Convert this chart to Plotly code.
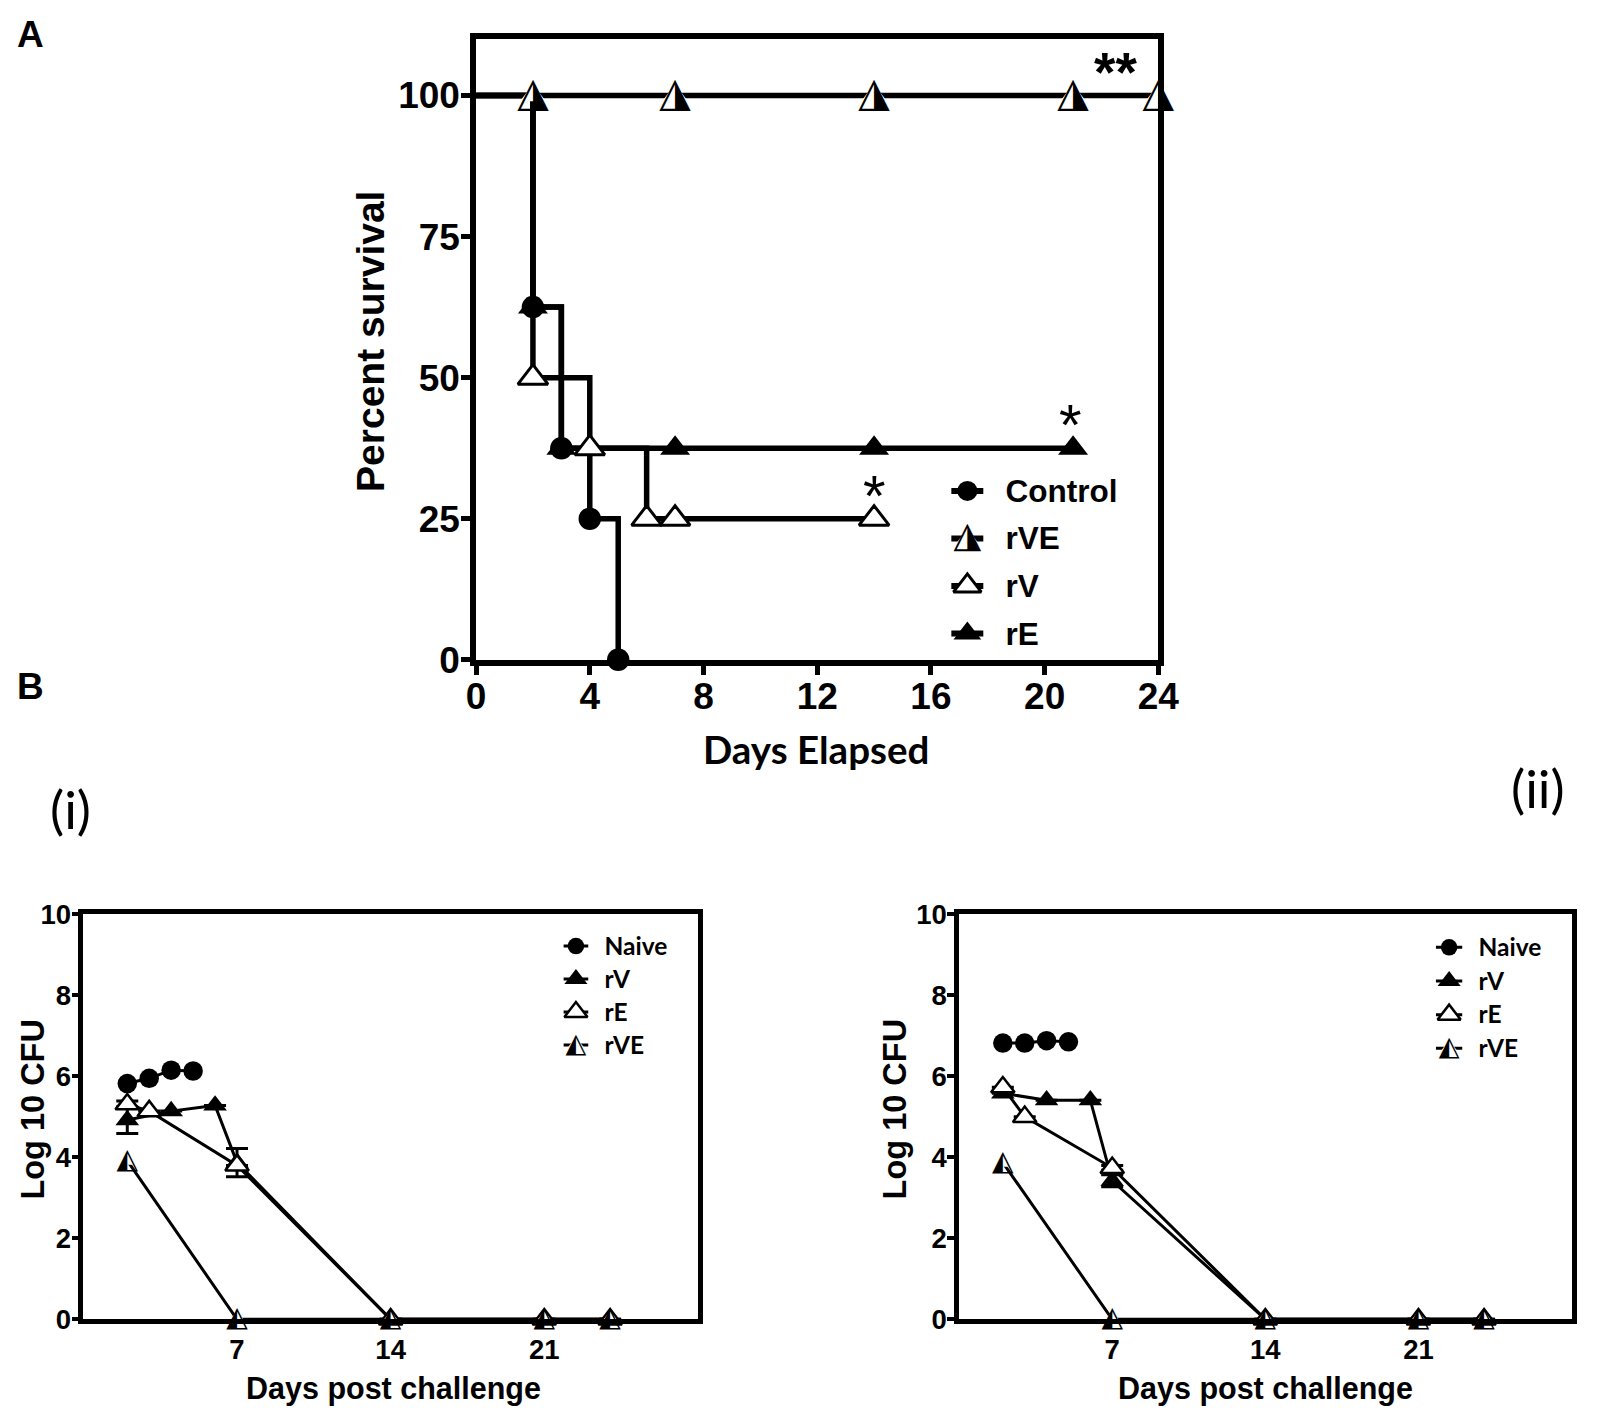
import plotly.graph_objects as go

W, H = 1610, 1426
ARIAL = "Liberation Sans, Arial, sans-serif"
CALIBRI = "Lato, Open Sans, sans-serif"
GLYPH = "DejaVu Sans"

# ---------------- Panel A: percent survival ----------------
a_control_days = [0, 2, 3, 4, 5]
a_control_pct = [100, 62.5, 37.5, 25, 0]
a_rve_days = [0, 2, 7, 14, 21, 24]
a_rve_pct = [100, 100, 100, 100, 100, 100]
a_rv_days = [0, 2, 4, 6, 7, 14]
a_rv_pct = [100, 50, 37.5, 25, 25, 25]
a_re_days = [0, 2, 3, 7, 14, 21]
a_re_pct = [100, 62.5, 37.5, 37.5, 37.5, 37.5]
a_xticks = [0, 4, 8, 12, 16, 20, 24]
a_yticks = [0, 25, 50, 75, 100]
a_legend = ["Control", "rVE", "rV", "rE"]
a_kind = {"Control": "circle", "rVE": "half", "rV": "open", "rE": "filled"}

# ---------------- Panel B: log10 CFU ----------------
b_xticks = [7, 14, 21]
b_yticks = [0, 2, 4, 6, 8, 10]
b_legend = ["Naive", "rV", "rE", "rVE"]
b_kind = {"Naive": "circle", "rV": "filled", "rE": "open", "rVE": "half"}

# (i)
bi_naive_days = [2, 3, 4, 5]
bi_naive = [5.82, 5.95, 6.15, 6.13]
bi_rv_days = [2, 4, 6, 7, 14, 21, 24]
bi_rv = [4.92, 5.14, 5.28, 3.87, 0, 0, 0]
bi_rv_err = [0.33, None, None, 0.35, None, None, None]
bi_re_days = [2, 3, 7, 14, 21, 24]
bi_re = [5.31, 5.14, 3.8, 0, 0, 0]
bi_re_err = [0.08, None, None, None, None, None]
bi_rve_days = [2, 7, 14, 21, 24]
bi_rve = [3.92, 0, 0, 0, 0]

# (ii)
bii_naive_days = [2, 3, 4, 5]
bii_naive = [6.82, 6.82, 6.88, 6.85]
bii_rv_days = [2, 4, 6, 7, 14, 21, 24]
bii_rv = [5.58, 5.41, 5.41, 3.42, 0, 0, 0]
bii_rv_err = [None, None, None, 0.15, None, None, None]
bii_re_days = [2, 3, 7, 14, 21, 24]
bii_re = [5.73, 5.0, 3.74, 0, 0, 0]
bii_re_err = [None, None, 0.06, None, None, None]
bii_rve_days = [2, 7, 14, 21, 24]
bii_rve = [3.87, 0, 0, 0, 0]

fig = go.Figure()


def marker_style(kind, size, lw):
    if kind == "circle":
        return dict(symbol="circle", size=size, color="black", line=dict(width=0))
    if kind == "filled":
        return dict(symbol="triangle-up", size=size, color="black", line=dict(width=0))
    if kind == "open":
        return dict(symbol="triangle-up", size=size, color="white",
                    line=dict(color="black", width=lw))
    # half-filled: white base under a glyph
    return dict(symbol="triangle-up", size=size * 0.8, color="white", line=dict(width=0))


def add_line(days, vals, xa, ya, width, shape):
    fig.add_trace(go.Scatter(x=days, y=vals, mode="lines", xaxis=xa, yaxis=ya,
                             line=dict(color="black", width=width, shape=shape),
                             cliponaxis=False, hoverinfo="skip", showlegend=False))


def add_marks(days, vals, xa, ya, kind, size, lw, glyph, gsize, err=None):
    err_y = None
    if err is not None:
        err_y = dict(type="data", array=err, visible=True, thickness=3,
                     width=11, color="black")
    fig.add_trace(go.Scatter(x=days, y=vals, mode="markers", xaxis=xa, yaxis=ya,
                             marker=marker_style(kind, size, lw), error_y=err_y,
                             cliponaxis=False, hoverinfo="skip", showlegend=False))
    if kind == "half":
        fig.add_trace(go.Scatter(x=days, y=vals, mode="text", xaxis=xa, yaxis=ya,
                                 text=[glyph] * len(days), textposition="middle center",
                                 textfont=dict(family=GLYPH, size=gsize, color="black"),
                                 cliponaxis=False, hoverinfo="skip", showlegend=False))


def add_legend(names, kinds, xa, ya, size, csize, lw, line_w, glyph, gsize):
    for name in names:
        kind = kinds[name]
        fig.add_trace(go.Scatter(x=[0], y=[name], mode="markers", xaxis=xa, yaxis=ya,
                                 marker=marker_style(kind, csize if kind == "circle" else size, lw),
                                 error_x=dict(type="data", array=[1], visible=True,
                                              thickness=line_w, width=0, color="black"),
                                 cliponaxis=False, hoverinfo="skip", showlegend=False))
        if kind == "half":
            fig.add_trace(go.Scatter(x=[0], y=[name], mode="text", xaxis=xa, yaxis=ya,
                                     text=[glyph], textposition="middle center",
                                     textfont=dict(family=GLYPH, size=gsize, color="black"),
                                     cliponaxis=False, hoverinfo="skip", showlegend=False))


# ---- Panel A traces ----
for d, v in [(a_rve_days, a_rve_pct), (a_re_days, a_re_pct),
             (a_rv_days, a_rv_pct), (a_control_days, a_control_pct)]:
    add_line(d, v, "x", "y", 5.5, "hv")
add_marks(a_re_days[1:], a_re_pct[1:], "x", "y", "filled", 26, 3, None, 0)
add_marks(a_rv_days[1:], a_rv_pct[1:], "x", "y", "open", 26, 3, None, 0)
add_marks(a_control_days[1:], a_control_pct[1:], "x", "y", "circle", 22.5, 3, None, 0)
add_marks(a_rve_days[1:], a_rve_pct[1:], "x", "y", "half", 28, 3, "\u25EE", 41)
add_legend(a_legend, a_kind, "x4", "y4", 24, 20, 3, 6, "\u25EE", 36)

# ---- Panel B traces ----
panels_b = [
    ("x2", "y2", bi_naive_days, bi_naive, bi_rv_days, bi_rv, bi_rv_err,
     bi_re_days, bi_re, bi_re_err, bi_rve_days, bi_rve),
    ("x3", "y3", bii_naive_days, bii_naive, bii_rv_days, bii_rv, bii_rv_err,
     bii_re_days, bii_re, bii_re_err, bii_rve_days, bii_rve),
]
for xa, ya, nd, nv, vd, vv, ve, ed, ev, ee, bd, bv in panels_b:
    add_line(bd, bv, xa, ya, 3, "linear")
    add_line(ed, ev, xa, ya, 3, "linear")
    add_line(vd, vv, xa, ya, 3, "linear")
    add_line(nd, nv, xa, ya, 3, "linear")
    add_marks(nd, nv, xa, ya, "circle", 19.5, 2.5, None, 0)
    add_marks(vd, vv, xa, ya, "filled", 20.5, 2.5, None, 0, ve)
    add_marks(ed, ev, xa, ya, "open", 20.5, 2.5, None, 0, ee)
    add_marks(bd, bv, xa, ya, "half", 20.5, 2.5, "\u25ED", 28)
add_legend(b_legend, b_kind, "x5", "y5", 20, 16.5, 2.5, 3, "\u25ED", 27)
add_legend(b_legend, b_kind, "x6", "y6", 20, 16.5, 2.5, 3, "\u25ED", 27)

# ---- axes ----
def tick_font(size, family=ARIAL):
    return dict(family=family, size=size, color="black", weight="bold")


ax_a = dict(showline=True, linewidth=5.5, linecolor="black", mirror=True, showgrid=False,
            zeroline=False, ticks="outside", ticklen=9, tickwidth=5, tickcolor="black",
            tickfont=tick_font(37))
ax_b = dict(showline=True, linewidth=4.5, linecolor="black", mirror=True, showgrid=False,
            zeroline=False, tickcolor="black", tickfont=tick_font(27.5))
leg_x = dict(range=[-1, 1], visible=False, fixedrange=True)
leg_y = dict(type="category", side="right", showline=False, showgrid=False, zeroline=False,
             ticks="", categoryorder="array", range=[3.5, -0.5])

b_y_dom = [0.0674, 0.3588]
fig.update_layout(
    width=W, height=H, margin=dict(l=0, r=0, t=0, b=0),
    paper_bgcolor="white", plot_bgcolor="rgba(0,0,0,0)", showlegend=False,
    hovermode=False,
    xaxis=dict(domain=[0.2901, 0.7222], range=[0, 24], tickvals=a_xticks, anchor="y",
               ticklabelstandoff=-10, **ax_a),
    yaxis=dict(domain=[0.5419, 0.9884], range=[0, 110], tickvals=a_yticks, anchor="x",
               ticklabelstandoff=-6, **ax_a),
    xaxis2=dict(domain=[0.0414, 0.4306], range=[0, 28], tickvals=b_xticks, anchor="y2",
                ticks="", ticklabelstandoff=2, **ax_b),
    yaxis2=dict(domain=b_y_dom, range=[0, 10], tickvals=b_yticks, anchor="x2",
                ticks="outside", ticklen=7, tickwidth=4, ticklabelstandoff=-5, **ax_b),
    xaxis3=dict(domain=[0.5960, 0.9839], range=[0, 28], tickvals=b_xticks, anchor="y3",
                ticks="", ticklabelstandoff=2, **ax_b),
    yaxis3=dict(domain=b_y_dom, range=[0, 10], tickvals=b_yticks, anchor="x3",
                ticks="outside", ticklen=7, tickwidth=4, ticklabelstandoff=-5, **ax_b),
    xaxis4=dict(domain=[0.5910, 0.6115], anchor="y4", **leg_x),
    yaxis4=dict(domain=[0.5437, 0.6805], anchor="x4", categoryarray=a_legend,
                ticklabelstandoff=21, tickfont=tick_font(31.5), **leg_y),
    xaxis5=dict(domain=[0.3454, 0.3613], anchor="y5", **leg_x),
    yaxis5=dict(domain=[0.2529, 0.3478], anchor="x5", categoryarray=b_legend,
                ticklabelstandoff=15, tickfont=tick_font(24.5, CALIBRI), **leg_y),
    xaxis6=dict(domain=[0.8979, 0.9148], anchor="y6", **leg_x),
    yaxis6=dict(domain=[0.2503, 0.3471], anchor="x6", categoryarray=b_legend,
                ticklabelstandoff=15, tickfont=tick_font(24.5, CALIBRI), **leg_y),
)


def note(text, x, y, size, family=ARIAL, weight="bold", angle=0, xref="paper",
         yref="paper", yshift=0):
    fig.add_annotation(text=text, x=x, y=y, xref=xref, yref=yref, showarrow=False,
                       textangle=angle, xanchor="center", yanchor="middle", yshift=yshift,
                       font=dict(family=family, size=size, color="black", weight=weight))


note("A", 0.0081, 0.9918, 37)
note("B", 0.0081, 0.5225, 37)
note("(i)", 0.0335, 0.4350, 53, family=CALIBRI, weight="normal")
note("(ii)", 0.9629, 0.4503, 53, family=CALIBRI, weight="normal")
note("Percent survival", 0.2233, 0.7710, 39, angle=-90)
note("Days Elapsed", 0.5055, 0.4778, 38.5, family=CALIBRI)
note("Log 10 CFU", 0.0098, 0.2186, 32.5, angle=-90)
note("Log 10 CFU", 0.5556, 0.2186, 32.5, angle=-90)
note("Days post challenge", 0.2376, 0.0177, 30.5)
note("Days post challenge", 0.7903, 0.0177, 30.5)
note("**", 22.5, 105.1, 55, xref="x", yref="y", yshift=-5)
note("*", 20.9, 42.7, 58, weight="normal", xref="x", yref="y", yshift=-6)
note("*", 14.0, 30.1, 58, weight="normal", xref="x", yref="y", yshift=-6)

fig.write_html("out.html")
